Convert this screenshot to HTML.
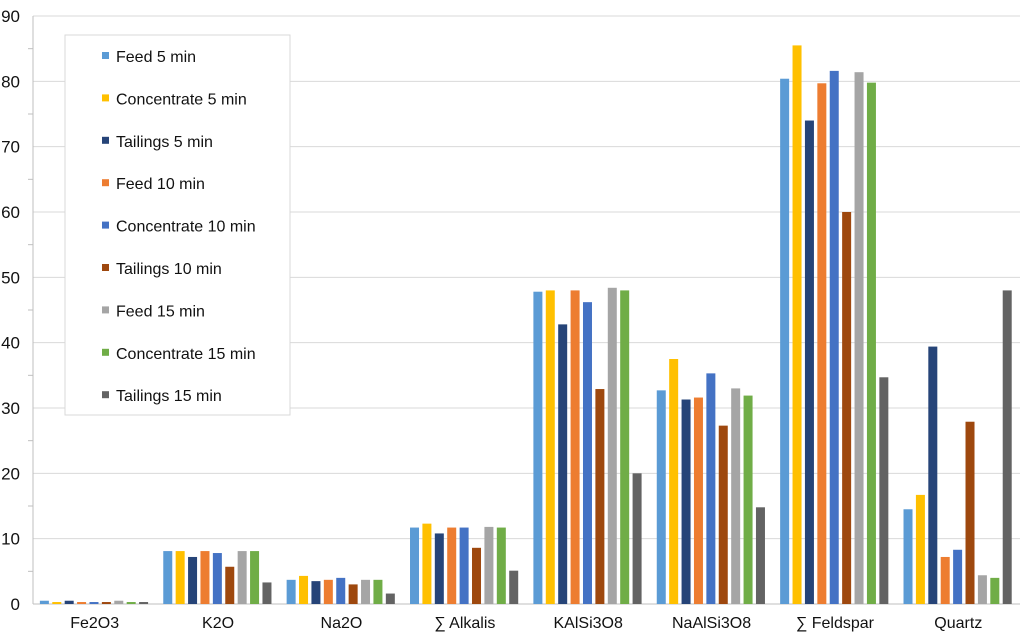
<!DOCTYPE html>
<html><head><meta charset="utf-8"><style>
body{margin:0;background:#fff;}
svg text{font-family:"Liberation Sans",Arial,sans-serif;fill:#111;}
</style></head><body>
<svg id="chart" width="1024" height="636" xmlns="http://www.w3.org/2000/svg"></svg>
<script>
const categories=["Fe2O3","K2O","Na2O","∑ Alkalis","KAlSi3O8","NaAlSi3O8","∑ Feldspar","Quartz"];
const seriesNames=["Feed 5 min","Concentrate 5 min","Tailings 5 min","Feed 10 min","Concentrate 10 min","Tailings 10 min","Feed 15 min","Concentrate 15 min","Tailings 15 min"];
const seriesColors=["#5b9bd5","#ffc000","#264478","#ed7d31","#4472c4","#9e480e","#a5a5a5","#70ad47","#636363"];
const feed5=[0.5,8.1,3.7,11.7,47.8,32.7,80.4,14.5];
const conc5=[0.3,8.1,4.3,12.3,48.0,37.5,85.5,16.7];
const tail5=[0.5,7.2,3.5,10.8,42.8,31.3,74.0,39.4];
const feed10=[0.3,8.1,3.7,11.7,48.0,31.6,79.7,7.2];
const conc10=[0.3,7.8,4.0,11.7,46.2,35.3,81.6,8.3];
const tail10=[0.3,5.7,3.0,8.6,32.9,27.3,60.0,27.9];
const feed15=[0.5,8.1,3.7,11.8,48.4,33.0,81.4,4.4];
const conc15=[0.3,8.1,3.7,11.7,48.0,31.9,79.8,4.0];
const tail15=[0.3,3.3,1.6,5.1,20.0,14.8,34.7,48.0];
const series=[feed5,conc5,tail5,feed10,conc10,tail10,feed15,conc15,tail15];
const yTicks=[0,10,20,30,40,50,60,70,80,90];

const svg=document.getElementById('chart');
const NS='http://www.w3.org/2000/svg';
const x0=33,x1=1020,y0=604,yTop=16,yMax=90;
const catW=(x1-x0)/categories.length;
const y=v=>y0-(v/yMax)*(y0-yTop);
function mk(t,a){const e=document.createElementNS(NS,t);for(const k in a)e.setAttribute(k,a[k]);svg.appendChild(e);return e;}

yTicks.forEach(t=>{
  const g=mk('line',{x1:x0,x2:x1,y1:y(t),y2:y(t),stroke:'#d9d9d9','stroke-width':1});
  
  
  const tx=mk('text',{x:20,y:y(t)+6,'font-size':17,'text-anchor':'end'});
  tx.textContent=t;
  
  
});
for(let v=5;v<90;v+=10){
  const m=mk('line',{x1:x0-5,x2:x0,y1:y(v),y2:y(v),stroke:'#bfbfbf'});
  
  
}
const ax=mk('line',{x1:x0,x2:x0,y1:yTop,y2:y0,stroke:'#bfbfbf'});


const bx=mk('line',{x1:x0,x2:x1,y1:y0,y2:y0,stroke:'#bfbfbf'});



const pitch=12.4,bw=9;
categories.forEach((c,i)=>{
  const start=x0+i*catW+(catW-pitch*9)/2+1;
  series.forEach((s,j)=>{
    const v=s[i];
    const r=mk('rect',{x:start+j*pitch,y:y(v),width:bw,height:y0-y(v),fill:seriesColors[j]});
    
    
  });
  const t=mk('text',{x:x0+(i+0.5)*catW,y:628,'font-size':16,'text-anchor':'middle'});
  t.textContent=c;
  
  
});

const lg=mk('rect',{x:65,y:35,width:225,height:380,fill:'#fff',stroke:'#d9d9d9'});


seriesNames.forEach((n,j)=>{
  const cy=56+j*42.4;
  const sw=mk('rect',{x:102,y:cy-4,width:7,height:7,fill:seriesColors[j]});
  
  
  const t=mk('text',{x:116,y:cy+6,'font-size':16});
  t.textContent=n;
  
  
});
</script>
</body></html>
